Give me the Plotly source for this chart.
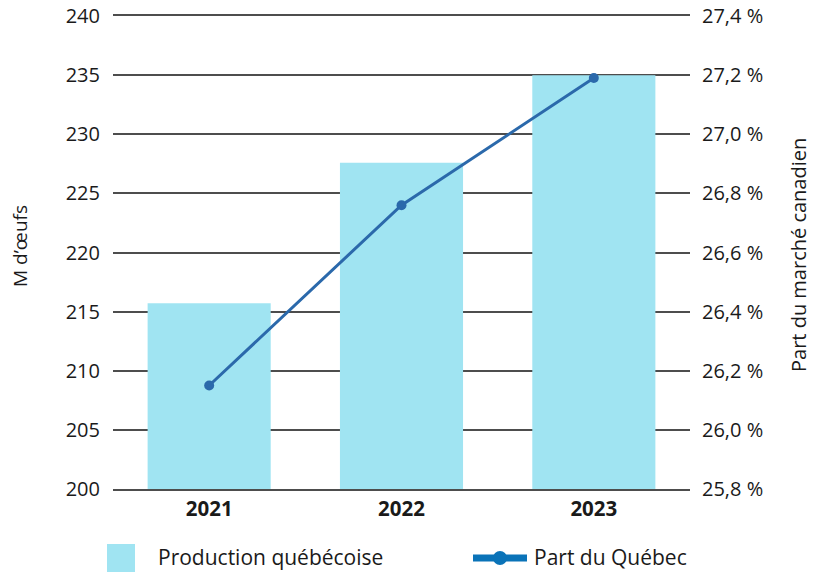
import plotly.graph_objects as go

years = ["2021", "2022", "2023"]
production = [215.7, 227.6, 235.0]
part_quebec = [26.15, 26.76, 27.19]

left_ticks = [200, 205, 210, 215, 220, 225, 230, 235, 240]
right_ticks = [25.8, 26.0, 26.2, 26.4, 26.6, 26.8, 27.0, 27.2, 27.4]
right_ticktext = [f"{v:.1f}".replace(".", ",") + " %" for v in right_ticks]

FONT = "Open Sans"
TXT = "#1a1a1a"
GRID = "#4d4d4d"
L, R, T, B = 113, 690, 16, 489
PW, PH = R - L, B - T

fig = go.Figure()
fig.add_trace(go.Bar(x=years, y=production, name="Production québécoise",
                     marker=dict(color="#a0e4f2", line=dict(width=0)),
                     width=0.64, yaxis="y", showlegend=False))
fig.add_trace(go.Scatter(x=years, y=part_quebec, name="Part du Québec",
                         mode="lines+markers", yaxis="y2",
                         line=dict(color="#2b69ab", width=3),
                         marker=dict(size=10, color="#2b69ab"), showlegend=False))

fig.update_layout(
    width=814, height=572,
    margin=dict(l=L, r=814 - R, t=T, b=572 - B, autoexpand=False),
    plot_bgcolor="white", paper_bgcolor="white",
    font=dict(family=FONT, size=20, color=TXT),
    xaxis=dict(tickfont=dict(size=20.5, family=FONT, color=TXT, weight="bold"),
               showgrid=False, ticks="", zeroline=False,
               showline=True, mirror=True, linecolor=GRID, linewidth=2,
               automargin=False),
    yaxis=dict(range=[200, 240], tickvals=left_ticks, showgrid=True,
               gridcolor=GRID, gridwidth=2, zeroline=False, showline=False,
               ticks="", ticklabelstandoff=12, automargin=False,
               tickfont=dict(size=20)),
    yaxis2=dict(range=[25.8, 27.4], tickvals=right_ticks, ticktext=right_ticktext,
                overlaying="y", side="right", showgrid=False, zeroline=False,
                showline=False, ticks="", ticklabelstandoff=11, automargin=False,
                tickfont=dict(size=20)),
)

def px(x):
    return (x - L) / PW

def py(y):
    return (B - y) / PH

# axis titles
fig.add_annotation(text="M d’œufs", xref="paper", yref="paper", x=px(20), y=py(246),
                   textangle=-90, showarrow=False, xanchor="center", yanchor="middle",
                   font=dict(size=19, family=FONT, color=TXT))
fig.add_annotation(text="Part du marché canadien", xref="paper", yref="paper", x=px(799), y=py(255),
                   textangle=-90, showarrow=False, xanchor="center", yanchor="middle",
                   borderpad=0, font=dict(size=20, family=FONT, color=TXT))

# custom legend
fig.add_shape(type="rect", xref="paper", yref="paper",
              x0=px(107), x1=px(135), y0=py(572), y1=py(544),
              fillcolor="#a0e4f2", line=dict(width=0))
fig.add_annotation(text="Production québécoise", xref="paper", yref="paper",
                   x=px(156), y=py(557), xanchor="left", yanchor="middle",
                   showarrow=False, font=dict(size=21, family=FONT, color=TXT))
fig.add_shape(type="line", xref="paper", yref="paper",
              x0=px(473), x1=px(527), y0=py(558), y1=py(558),
              line=dict(color="#0a73b8", width=7))
fig.add_shape(type="circle", xref="paper", yref="paper",
              x0=px(493), x1=px(507), y0=py(565), y1=py(551),
              fillcolor="#0a73b8", line=dict(width=0))
fig.add_annotation(text="Part du Québec", xref="paper", yref="paper",
                   x=px(532), y=py(557), xanchor="left", yanchor="middle",
                   showarrow=False, font=dict(size=21, family=FONT, color=TXT))

fig.write_html("out.html", config={"displayModeBar": False},
               post_script="document.body.style.margin='0';document.body.style.overflow='hidden';")
